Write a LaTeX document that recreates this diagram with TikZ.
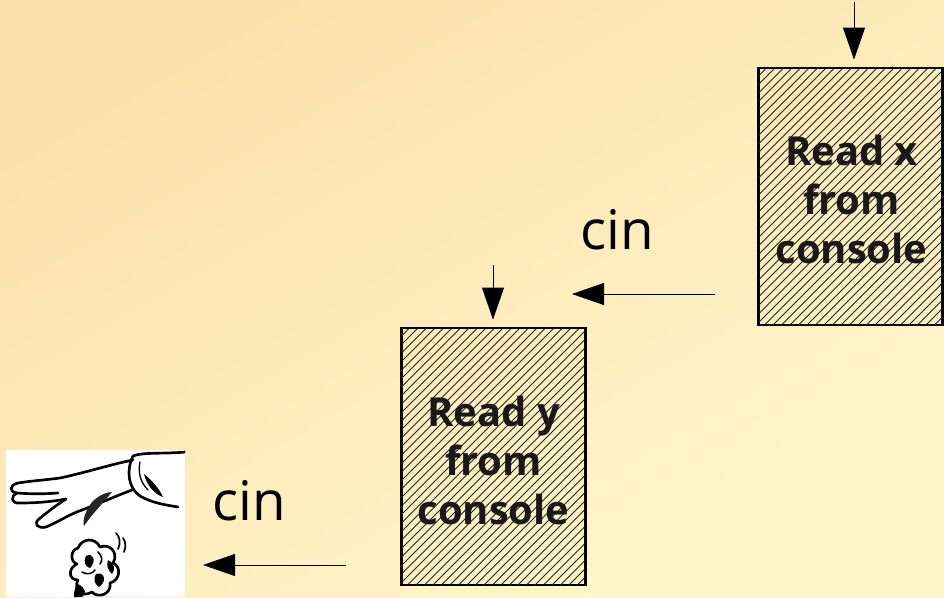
\documentclass[tikz,border=0pt]{standalone}
\usepackage{fontspec}
\setmainfont{Open Sans}
\usetikzlibrary{arrows.meta,calc}
\definecolor{bgwarm}{RGB}{252,224,170}
\definecolor{bgmid}{RGB}{255,240,194}
\definecolor{bglight}{RGB}{255,247,204}
\definecolor{hatchcol}{RGB}{35,35,35}
\definecolor{inkcol}{RGB}{25,25,25}
\tikzset{
  flowbox/.style={draw=black, line width=1.4pt, minimum width=137.25pt, minimum height=192pt, inner sep=0pt},
  boxtext/.style={align=center, font=\fontsize{30}{37}\selectfont\bfseries, text=inkcol},
  feed/.style={-{Triangle[length=24pt,width=16.5pt]}, line width=0.75pt, draw=black!75, color=black},
  cinlabel/.style={font=\fontsize{41}{44}\selectfont, text=black},
  handline/.style={line width=2pt, draw=black, line cap=round, line join=round}
}
\begin{document}
\begin{tikzpicture}[x=0.75pt,y=-0.75pt]
  % page and background
  \useasboundingbox (0,0) rectangle (944,597);
  \shade[top color=bgwarm, middle color=bgmid, bottom color=bglight, shading angle=30] (0,0) rectangle (944,597);

  % the two reading steps
  \node[flowbox] (readx) at (850.5,196.5) {};
  \node[flowbox] (ready) at (493.5,456.5) {};
  % hatching inside the boxes
  \foreach \b in {readx,ready}{
    \begin{scope}
      \clip (\b.south west) rectangle (\b.north east);
      \foreach \k in {-323,-314.5,...,323}{
        \draw[hatchcol, line width=0.7pt] ($(\b.center)+(\k-150,150)$) -- ($(\b.center)+(\k+150,-150)$);
      }
    \end{scope}
    \draw[line width=1.4pt] (\b.south west) rectangle (\b.north east);
  }
  \node[boxtext] (txtx) at ($(readx.center)+(1,3)$) {Read x\\from\\console};
  \node[boxtext] (txty) at ($(ready.center)+(0,4)$) {Read y\\from\\console};

  % incoming arrows
  \coordinate (inx) at (854,2);
  \coordinate (iny) at (493,265);
  \draw[feed] (inx) -- ($(inx |- readx.north)+(0,-8)$);
  \draw[feed] (iny) -- ($(iny |- ready.north)+(0,-8)$);

  % cin arrows
  \coordinate (c1s) at (715,294);
  \coordinate (c1e) at (572,294);
  \coordinate (c2s) at (346,565);
  \coordinate (c2e) at (203,565);
  \draw[feed] (c1s) -- (c1e);
  \draw[feed] (c2s) -- (c2e);
  \node[cinlabel] (cin1) at (617,230) {cin};
  \node[cinlabel] (cin2) at (249,501) {cin};

  % sketch of a hand dropping a crumpled paper
  \fill[white] (6,450) rectangle (185,597);
  \begin{scope}
    \clip (6,450) rectangle (185,597);
    % cuff
    \draw[handline] (185,452) .. controls (165,454) and (142,452) .. (133,456);
    \draw[handline] (133,456) .. controls (126,470) and (128,488) .. (140,496) .. controls (152,503) and (166,505) .. (178,507);
    \fill[black] (144,474) .. controls (152,480) and (160,490) .. (163,497) .. controls (154,494) and (146,484) .. (144,474);
    \draw[handline, line width=1pt] (140,462) .. controls (138,472) and (140,482) .. (148,490);
    % back of the hand and fingers
    \draw[handline] (133,460) .. controls (118,463) and (108,466) .. (100,468) .. controls (85,472) and (70,476) .. (60,478)
      .. controls (45,480) and (30,481) .. (18,483) .. controls (9,485) and (9,492) .. (17,493)
      .. controls (30,494) and (45,494) .. (58,493);
    \draw[handline] (17,493) .. controls (10,496) and (11,504) .. (20,503) .. controls (35,503) and (50,502) .. (66,499);
    \draw[handline] (66,499) .. controls (55,506) and (45,514) .. (39,519) .. controls (33,524) and (38,529) .. (46,527)
      .. controls (58,522) and (70,514) .. (82,510);
    \draw[handline] (82,510) .. controls (98,504) and (116,496) .. (132,490);
    % shadow under the palm
    \fill[black!85] (112,492) .. controls (104,502) and (92,514) .. (84,526) .. controls (82,520) and (86,510) .. (92,502)
      .. controls (98,496) and (106,492) .. (112,492);
    % crumpled paper
    \draw[handline] (78,548) .. controls (70,550) and (70,562) .. (77,564) .. controls (68,568) and (68,580) .. (78,580)
      .. controls (73,590) and (82,598) .. (92,592) .. controls (98,599) and (112,594) .. (110,583)
      .. controls (121,580) and (121,566) .. (113,563) .. controls (119,553) and (110,543) .. (100,547)
      .. controls (95,537) and (82,538) .. (78,548);
    \fill[black] (86,556) .. controls (93,552) and (97,561) .. (90,568) .. controls (85,567) and (83,561) .. (86,556);
    \fill[black] (96,574) .. controls (105,571) and (107,582) .. (99,587) .. controls (94,584) and (93,578) .. (96,574);
    \fill[black] (78,584) .. controls (86,588) and (87,594) .. (82,597) -- (74,597) .. controls (74,591) and (75,587) .. (78,584);
    \fill[black] (108,560) .. controls (114,562) and (116,570) .. (112,574) .. controls (108,570) and (106,566) .. (108,560);
    \draw[handline, line width=1.2pt] (82,572) .. controls (87,575) and (92,574) .. (95,570);
    \draw[handline, line width=1.2pt] (98,552) .. controls (102,556) and (103,560) .. (100,564);
    % motion marks
    \draw[handline, line width=1.3pt] (116,533) .. controls (120,537) and (121,543) .. (118,549);
    \draw[handline, line width=1.3pt] (123,538) .. controls (126,542) and (126,547) .. (124,552);
  \end{scope}
\end{tikzpicture}
\end{document}
